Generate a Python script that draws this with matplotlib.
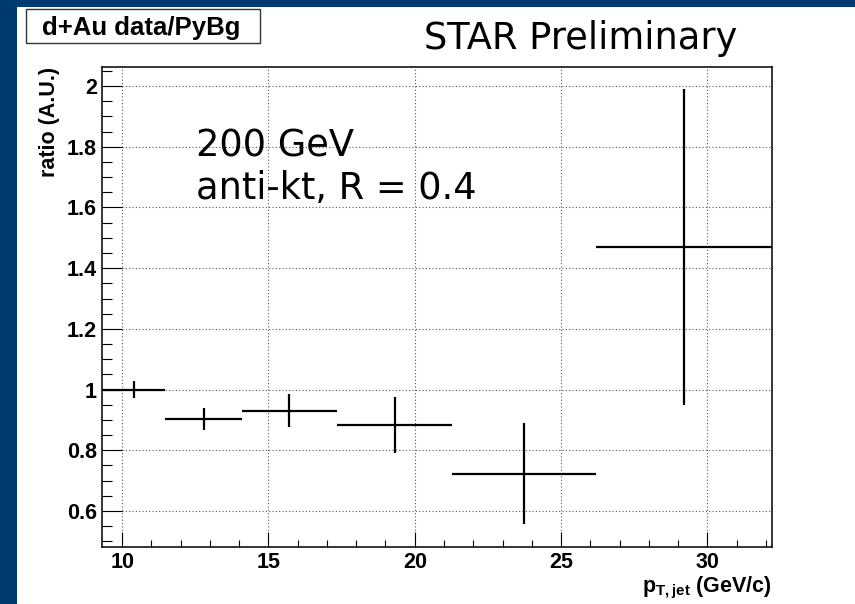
import numpy as np
import matplotlib
matplotlib.use("Agg")
import matplotlib.pyplot as plt
from matplotlib.patches import Rectangle
from matplotlib.ticker import MultipleLocator

# jet pT bins (log spaced) and the d+Au / PYTHIA ratio in each bin
bin_edges = [9.3, 11.48, 14.09, 17.33, 21.29, 26.18, 32.2]
ratio = [1.0, 0.902, 0.930, 0.882, 0.723, 1.469]
ratio_err = [0.029, 0.037, 0.054, 0.092, 0.166, 0.52]

x_ticks = [10, 15, 20, 25, 30]
y_ticks = [0.6, 0.8, 1.0, 1.2, 1.4, 1.6, 1.8, 2.0]
y_tick_labels = ["0.6", "0.8", "1", "1.2", "1.4", "1.6", "1.8", "2"]

plt.rcParams["font.family"] = ["Liberation Sans", "DejaVu Sans"]
plt.rcParams["mathtext.fontset"] = "custom"
plt.rcParams["mathtext.bf"] = "Liberation Sans:bold"
plt.rcParams["mathtext.rm"] = "Liberation Sans:bold"

W, H = 855, 604
fig = plt.figure(figsize=(W / 100, H / 100), dpi=100)
fig.patch.set_facecolor("white")

# slide frame
blue = "#003a70"
fig.patches.append(Rectangle((0, 0), 17 / W, 1, transform=fig.transFigure,
                             facecolor=blue, edgecolor="none", zorder=0))
fig.patches.append(Rectangle((0, 1 - 7 / H), 1, 7 / H, transform=fig.transFigure,
                             facecolor=blue, edgecolor="none", zorder=0))

ax = fig.add_axes([101.7 / W, 1 - 546.7 / H, 670 / W, 480 / H])

edges = np.array(bin_edges)
centers = 0.5 * (edges[:-1] + edges[1:])
xerr = [centers - edges[:-1], edges[1:] - centers]
ax.errorbar(centers, ratio, xerr=xerr, yerr=ratio_err, fmt="none",
            ecolor="black", elinewidth=1.6, capsize=0, zorder=3)

ax.set_xlim(bin_edges[0], bin_edges[-1])
ax.set_ylim(0.482, 2.064)
ax.set_xticks(x_ticks)
ax.set_xticklabels([str(t) for t in x_ticks])
ax.set_yticks(y_ticks)
ax.set_yticklabels(y_tick_labels)
ax.xaxis.set_minor_locator(MultipleLocator(1))
ax.yaxis.set_minor_locator(MultipleLocator(0.05))

ax.grid(True, which="major", linestyle=(0, (1, 2)), linewidth=0.8, color="#555555")
ax.tick_params(axis="both", which="both", direction="in", width=0.8, color="black",
               labelsize=15.5)
ax.tick_params(axis="y", which="major", length=14.4, pad=3.5)
ax.tick_params(axis="y", which="minor", length=7.2)
ax.tick_params(axis="x", which="major", length=10.8, pad=4)
ax.tick_params(axis="x", which="minor", length=5.4)
for lbl in ax.get_xticklabels() + ax.get_yticklabels():
    lbl.set_fontweight("bold")
for sp in ax.spines.values():
    sp.set_linewidth(1.1)

ax.set_xlabel(r"$\mathbf{p_{T,jet}}$ (GeV/c)", fontsize=15.5, fontweight="bold",
              ha="right", x=1.0, labelpad=1)
ax.set_ylabel("ratio (A.U.)", fontsize=15.5, fontweight="bold",
              ha="right", y=1.0, labelpad=5)

# annotations
fig.text(196 / W, 1 - 156.7 / H, "200 GeV", family="DejaVu Sans", fontsize=26.5,
         va="baseline", ha="left")
fig.text(196 / W, 1 - 199 / H, "anti-kt, R = 0.4", family="DejaVu Sans", fontsize=26.5,
         va="baseline", ha="left")
fig.text(424 / W, 1 - 49.3 / H, "STAR Preliminary", family="DejaVu Sans", fontsize=26.5,
         va="baseline", ha="left")

fig.patches.append(Rectangle((26 / W, 1 - 43.3 / H), 234 / W, 34 / H,
                             transform=fig.transFigure, facecolor="white",
                             edgecolor="#333333", linewidth=1.0, zorder=1))
fig.text(42 / W, 1 - 35.5 / H, "d+Au data/PyBg", fontsize=18.5, fontweight="bold",
         va="baseline", ha="left", zorder=2)

fig.savefig("out.png", dpi=100)
